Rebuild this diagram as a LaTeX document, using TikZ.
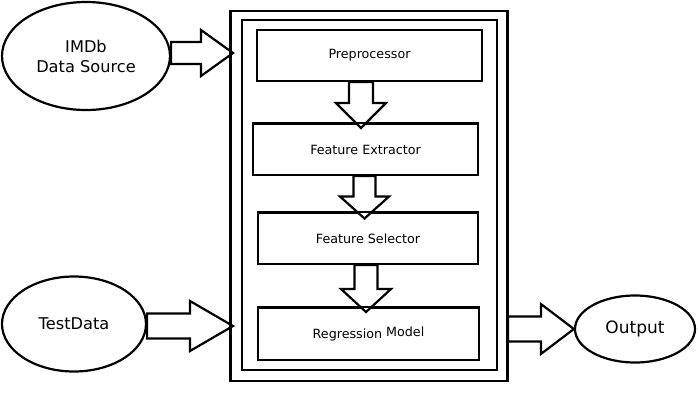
\documentclass[tikz,border=0pt]{standalone}
\usepackage{fontspec}
\setmainfont{DejaVu Sans}
\usetikzlibrary{calc,shapes.geometric}
\tikzset{
  stepbox/.style={draw, line width=2.2pt, rectangle, inner sep=0pt, font=\fontsize{12.7}{14}\selectfont},
  frame/.style={draw, line width=2.2pt, rectangle, inner sep=0pt},
  oval/.style={draw, line width=2.2pt, ellipse, inner sep=0pt, font=\fontsize{16.2}{20}\selectfont, align=center},
  barrow/.style={draw, line width=2.2pt, fill=white, line join=miter},
  edge2/.style={line width=2.2pt},
}
\newcommand\harrowto[5]{\draw[barrow] let \p1=(#1), \p2=(#2) in
  (\x1,\y2+#3) -- (\x2-#5,\y2+#3) -- (\x2-#5,\y2+#4) -- (\x2,\y2) -- (\x2-#5,\y2-#4) -- (\x2-#5,\y2-#3) -- (\x1,\y2-#3) -- cycle;}
\newcommand\varrowto[5]{\draw[barrow] let \p1=(#1), \p2=(#2) in
  (\x2-#3,\y1) -- (\x2-#3,\y2+#5) -- (\x2-#4,\y2+#5) -- (\x2,\y2) -- (\x2+#4,\y2+#5) -- (\x2+#3,\y2+#5) -- (\x2+#3,\y1) -- cycle;}
\begin{document}
\begin{tikzpicture}[x=1pt,y=-1pt]
\useasboundingbox (0,0) rectangle (698,405);
% sources and output
\node[oval, minimum width=168pt, minimum height=108pt] (imdb) at (86,56) {IMDb\\Data Source};
\node[oval, minimum width=144pt, minimum height=95pt] (test) at (74,324) {TestData};
\node[oval, minimum width=120pt, minimum height=67pt, font=\fontsize{17}{20}\selectfont] (out) at (635,329) {Output};
% frames
\node[frame, minimum width=276pt, minimum height=370pt] (outer) at (369,196) {};
\node[frame, minimum width=255pt, minimum height=350pt] (inner) at (369.5,195) {};
% arrow tips
\coordinate (t1) at (233,53);
\coordinate (t2) at (233,326);
\coordinate (d1) at (361,128);
\coordinate (d2) at (364.5,218.5);
\coordinate (d3) at (366,312);
% steps
\node[stepbox, minimum width=225pt, minimum height=51pt] (pre) at (369.5,55.5) {Preprocessor};
\node[stepbox, minimum width=225pt, minimum height=51pt] (fe) at (365.5,149.5) {Feature Extractor};
\node[stepbox, minimum width=220pt, minimum height=51pt] (fs) at (368,238.5) {Feature Selector};
\node[stepbox, minimum width=221pt, minimum height=52pt] (rm) at (368.5,334) {Regression \raisebox{2pt}{Model}};
% block arrows
\harrowto{imdb.east}{t1}{11pt}{23pt}{32pt}
\harrowto{test.east}{t2}{12.5pt}{25pt}{43pt}
\harrowto{outer.east}{out.west}{12.5pt}{25pt}{33pt}
\varrowto{pre.south}{d1}{12pt}{25pt}{25pt}
\varrowto{fe.south}{d2}{11pt}{24.5pt}{22pt}
\varrowto{fs.south}{d3}{11.5pt}{25pt}{23pt}
% redraw borders over arrow tips
\draw[edge2] (fe.north west) -- (fe.north east);
\draw[edge2] (fs.north west) -- (fs.north east);
\draw[edge2] (rm.north west) -- (rm.north east);
\draw[edge2] (outer.north west) -- (outer.south west);
\draw[edge2] (outer.north east) -- (outer.south east);
\end{tikzpicture}
\end{document}
